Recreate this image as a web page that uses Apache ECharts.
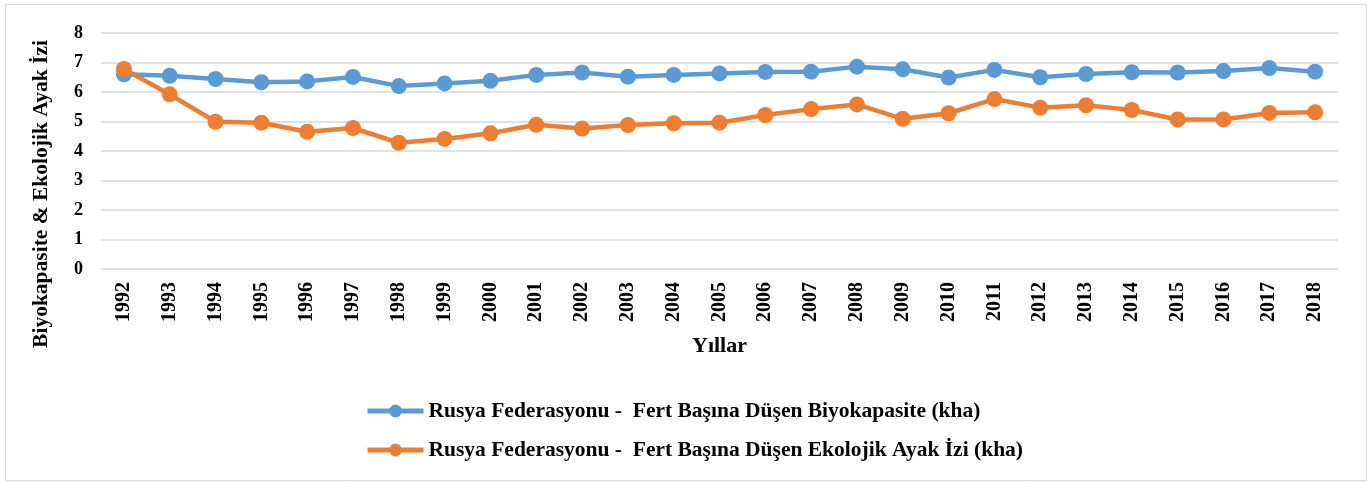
<!DOCTYPE html>
<html>
<head>
<meta charset="utf-8">
<script src="https://cdn.jsdelivr.net/npm/echarts@6/dist/echarts.min.js"></script>
<style>html,body{margin:0;padding:0;background:#fff}#c{width:1370px;height:482px}</style>
</head>
<body>
<div id="c"></div>
<script>
const years = ['1992','1993','1994','1995','1996','1997','1998','1999','2000','2001','2002','2003','2004','2005','2006','2007','2008','2009','2010','2011','2012','2013','2014','2015','2016','2017','2018'];
const biyokapasite = [6.60,6.55,6.44,6.33,6.36,6.51,6.20,6.29,6.38,6.58,6.66,6.52,6.58,6.63,6.68,6.69,6.86,6.77,6.49,6.75,6.50,6.61,6.67,6.66,6.71,6.81,6.69];
const ayakIzi = [6.78,5.92,4.99,4.96,4.65,4.78,4.28,4.41,4.60,4.89,4.76,4.88,4.94,4.96,5.22,5.42,5.58,5.09,5.28,5.76,5.47,5.55,5.39,5.07,5.07,5.29,5.31];
const seriesNames = ['Rusya Federasyonu -  Fert Başına Düşen Biyokapasite (kha)','Rusya Federasyonu -  Fert Başına Düşen Ekolojik Ayak İzi (kha)'];
const yAxisName = 'Biyokapasite & Ekolojik Ayak İzi';
const xAxisName = 'Yıllar';

const font = '"Liberation Serif", "Times New Roman", serif';
const chart = echarts.init(document.getElementById('c'), null, {renderer:'canvas'});
chart.setOption({
  animation:false,
  color:['#5B9BD5','#ED7D31'],
  textStyle:{fontFamily:font},
  graphic:[{type:'rect',shape:{x:5.5,y:4.5,width:1361,height:476},style:{fill:'none',stroke:'#d9d9d9',lineWidth:1},silent:true,z:-1}],
  grid:{left:101,right:32,top:33,bottom:213,containLabel:false},
  legend:{
    orient:'vertical',left:360,top:395,itemGap:17,itemWidth:56,itemHeight:16,
    lineStyle:{width:5},
    textStyle:{fontFamily:font,fontWeight:'bold',fontSize:21.5,color:'#000'},
    data:seriesNames
  },
  xAxis:{
    type:'category',data:years,boundaryGap:true,
    axisLine:{show:false},axisTick:{show:false},
    axisLabel:{rotate:90,margin:13,fontFamily:font,fontWeight:'bold',fontSize:20,color:'#000'},
    name:xAxisName,nameLocation:'middle',nameGap:66,
    nameTextStyle:{fontFamily:font,fontWeight:'bold',fontSize:22,color:'#000'}
  },
  yAxis:{
    type:'value',min:0,max:8,interval:1,
    axisLine:{show:false},axisTick:{show:false},
    splitLine:{lineStyle:{color:'#d9d9d9',width:1.5}},
    axisLabel:{margin:18,fontFamily:font,fontWeight:'bold',fontSize:18,color:'#000'},
    name:yAxisName,nameLocation:'middle',nameGap:49,
    nameTextStyle:{fontFamily:font,fontWeight:'bold',fontSize:21.5,color:'#000',padding:[0,86,0,0]}
  },
  series:[
    {name:seriesNames[0],type:'line',data:biyokapasite,symbol:'circle',symbolSize:16,lineStyle:{width:4.5},itemStyle:{color:'#5B9BD5'}},
    {name:seriesNames[1],type:'line',data:ayakIzi,symbol:'circle',symbolSize:16,lineStyle:{width:4.5},itemStyle:{color:'#ED7D31'}}
  ]
});
</script>
</body>
</html>
